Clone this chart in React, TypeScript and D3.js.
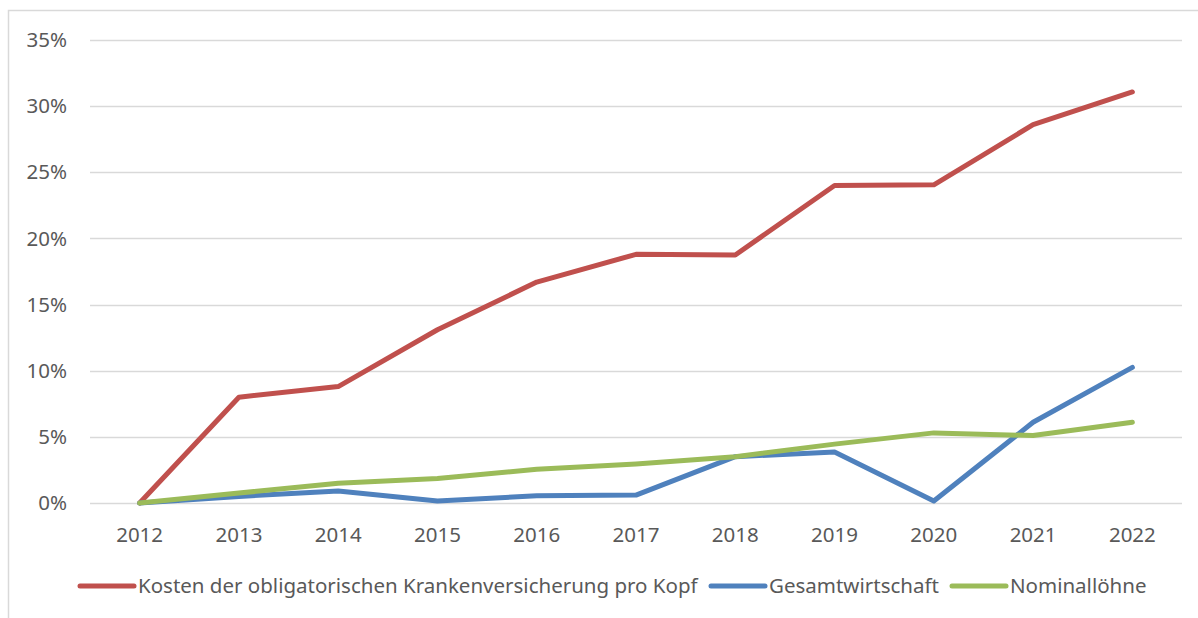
import React, { useRef, useEffect } from 'react';
import * as d3 from 'd3';

const years = ['2012', '2013', '2014', '2015', '2016', '2017', '2018', '2019', '2020', '2021', '2022'];
const okpKosten = [0, 8.0, 8.8, 13.1, 16.7, 18.8, 18.75, 24.0, 24.05, 28.6, 31.07];
const gesamtwirtschaft = [0, 0.5, 0.9, 0.15, 0.55, 0.6, 3.5, 3.85, 0.15, 6.1, 10.25];
const nominalloehne = [0, 0.75, 1.5, 1.85, 2.55, 2.95, 3.5, 4.45, 5.3, 5.1, 6.1];
const yTicks = [0, 5, 10, 15, 20, 25, 30, 35];

const seriesList = [
  { name: 'Kosten der obligatorischen Krankenversicherung pro Kopf', values: okpKosten, color: '#C0504D' },
  { name: 'Gesamtwirtschaft', values: gesamtwirtschaft, color: '#4F81BD' },
  { name: 'Nominallöhne', values: nominalloehne, color: '#9BBB59' },
];

const W = 1198;
const H = 618;
const FONT = '"Noto Sans", "Open Sans", sans-serif';
const FS = 20.5;

const App = () => {
  const svgRef = useRef<SVGSVGElement>(null);

  useEffect(() => {
    const svg = d3.select(svgRef.current);
    svg.selectAll('*').remove();

    const margin = { top: 40, right: 16, bottom: 115, left: 90 };
    const x = d3.scaleBand().domain(years).range([margin.left, W - margin.right]);
    const y = d3.scaleLinear().domain([0, 35]).range([H - margin.bottom, margin.top]);

    svg.append('rect').attr('width', W).attr('height', H).attr('fill', '#fff');

    // chart frame
    svg.append('path')
      .attr('d', `M8.5,${H + 5} V10.5 H${W + 5}`)
      .attr('fill', 'none')
      .attr('stroke', '#d9d9d9')
      .attr('stroke-width', 1.5);

    // gridlines
    svg.append('g')
      .selectAll('line')
      .data(yTicks)
      .enter()
      .append('line')
      .attr('x1', margin.left)
      .attr('x2', W - margin.right)
      .attr('y1', d => Math.round(y(d)) + 0.5)
      .attr('y2', d => Math.round(y(d)) + 0.5)
      .attr('stroke', '#d9d9d9')
      .attr('stroke-width', 1.5);

    // y labels
    svg.append('g')
      .selectAll('text')
      .data(yTicks)
      .enter()
      .append('text')
      .attr('x', 67)
      .attr('y', d => y(d))
      .attr('dy', '0.35em')
      .attr('text-anchor', 'end')
      .attr('font-family', FONT)
      .attr('font-size', FS)
      .attr('fill', '#595959')
      .text(d => `${d}%`);

    // x labels
    svg.append('g')
      .selectAll('text')
      .data(years)
      .enter()
      .append('text')
      .attr('x', d => x(d)! + x.bandwidth() / 2)
      .attr('y', y(0) + 39)
      .attr('text-anchor', 'middle')
      .attr('font-family', FONT)
      .attr('font-size', FS)
      .attr('fill', '#595959')
      .text(d => d);

    const line = d3.line<number>()
      .x((_, i) => x(years[i])! + x.bandwidth() / 2)
      .y(d => y(d));

    seriesList.forEach(s => {
      svg.append('path')
        .datum(s.values)
        .attr('fill', 'none')
        .attr('stroke', s.color)
        .attr('stroke-width', 5)
        .attr('stroke-linejoin', 'round')
        .attr('stroke-linecap', 'round')
        .attr('d', line);
    });

    // legend
    const legendY = 586;
    const legendX = [80, 711, 952];
    seriesList.forEach((s, i) => {
      const g = svg.append('g').attr('transform', `translate(${legendX[i]},${legendY})`);
      g.append('line')
        .attr('x1', 0).attr('x2', 54)
        .attr('stroke', s.color)
        .attr('stroke-width', 5)
        .attr('stroke-linecap', 'round');
      g.append('text')
        .attr('x', 58)
        .attr('dy', '0.35em')
        .attr('font-family', FONT)
        .attr('font-size', FS)
        .attr('fill', '#595959')
        .text(s.name);
    });
  }, []);

  return (
    <svg
      ref={svgRef}
      width={W}
      height={H}
      style={{ position: 'absolute', left: 0, top: 0, display: 'block' }}
    />
  );
};

export default App;
